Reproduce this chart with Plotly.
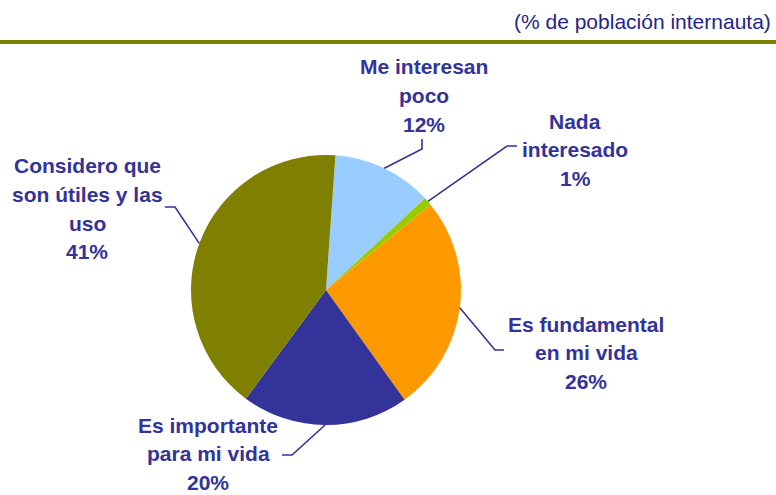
import math
import plotly.graph_objects as go

# ---- data ----
categories = ["Me interesan<br>poco", "Nada<br>interesado", "Es fundamental<br>en mi vida",
              "Es importante<br>para mi vida", "Considero que<br>son útiles y las<br>uso"]
values = [12, 1, 26, 20, 41]
colors = ["#99CCFF", "#99CC00", "#FF9900", "#333399", "#808000"]
subtitle = "(% de población internauta)"

# ---- layout constants (pixels) ----
W, H = 776, 495
CX, CY, R = 326, 290, 135
ROTATION = 4
LINE_H = 28.5
# label centre (x, y of first line centre), elbow, end of leader line
label_pos = [(424, 67), (575, 121), (586, 324), (208, 425), (87, 166)]
elbows = [(422, 149), (507, 146), (495, 350), (292, 455), (175, 207)]
ends = [(422, 139), (517, 146), (504, 350), (282, 455), (165, 207)]

TXT = "#333399"
FONT = "Liberation Sans"

def px(x, y):
    return x / W, 1 - y / H

fig = go.Figure(go.Pie(
    values=values, labels=[c.replace("<br>", " ") for c in categories],
    marker=dict(colors=colors, line=dict(width=0)),
    sort=False, direction="clockwise", rotation=ROTATION,
    textinfo="none", hoverinfo="label+percent",
    domain=dict(x=[(CX - R) / W, (CX + R) / W], y=[1 - (CY + R) / H, 1 - (CY - R) / H]),
    showlegend=False,
))

shapes = []
annotations = []
total = sum(values)
start = ROTATION
for i, v in enumerate(values):
    span = v / total * 360
    mid = math.radians(start + span / 2)
    start += span
    sx = CX + R * math.sin(mid)
    sy = CY - R * math.cos(mid)
    ex, ey = elbows[i]
    fx, fy = ends[i]
    p0 = px(sx, sy); p1 = px(ex, ey); p2 = px(fx, fy)
    shapes.append(dict(type="path", xref="paper", yref="paper",
                       path=f"M {p0[0]},{p0[1]} L {p1[0]},{p1[1]} L {p2[0]},{p2[1]}",
                       line=dict(color=TXT, width=1.6)))
    lx, ly = label_pos[i]
    lines = categories[i].split("<br>") + [f"{v}%"]
    for k, t in enumerate(lines):
        ax, ay = px(lx, ly + k * LINE_H)
        annotations.append(dict(x=ax, y=ay, xref="paper", yref="paper",
                                text=t, showarrow=False, borderpad=0,
                                xanchor="center", yanchor="middle", align="center",
                                font=dict(family=FONT, size=21, color=TXT, weight="bold")))

# header rule and subtitle
shapes.append(dict(type="line", xref="paper", yref="paper", x0=0, x1=1,
                   y0=1 - 42 / H, y1=1 - 42 / H, line=dict(color="#808000", width=4)))
annotations.append(dict(x=773 / W, y=1 - 22 / H, xref="paper", yref="paper",
                        text=subtitle, showarrow=False, xanchor="right", yanchor="middle",
                        font=dict(family=FONT, size=21, color="#24248A")))

fig.update_layout(width=W, height=H, margin=dict(l=0, r=0, t=0, b=0),
                  paper_bgcolor="white", plot_bgcolor="white",
                  shapes=shapes, annotations=annotations)
fig.write_html("out.html", config={"displayModeBar": False},
               post_script="document.body.style.margin='0';document.body.style.overflow='hidden';")
